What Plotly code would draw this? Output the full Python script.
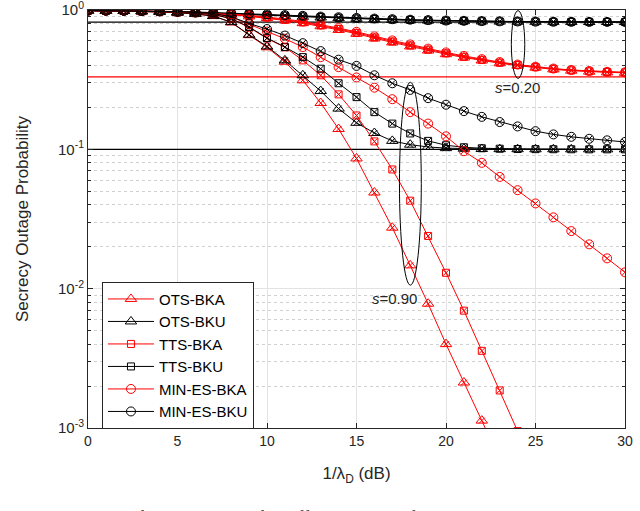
import plotly.graph_objects as go

# x-Achse: 1/lambda_D in dB
snr_db = list(range(31))

# --- s = 0.20 ---
ots_bka_020 = [0.990, 0.988, 0.985, 0.980, 0.974, 0.966, 0.955, 0.942, 0.925, 0.900, 0.875,
               0.842, 0.805, 0.765, 0.720, 0.675, 0.625, 0.585, 0.548, 0.512, 0.482,
               0.456, 0.434, 0.415, 0.399, 0.386, 0.375, 0.367, 0.361, 0.357, 0.354]
tts_bka_020 = [0.991, 0.989, 0.986, 0.981, 0.976, 0.969, 0.959, 0.947, 0.931, 0.908, 0.884,
               0.852, 0.816, 0.776, 0.731, 0.686, 0.636, 0.595, 0.557, 0.520, 0.489,
               0.462, 0.439, 0.419, 0.403, 0.389, 0.378, 0.369, 0.363, 0.359, 0.356]
min_es_bka_020 = [0.992, 0.990, 0.988, 0.983, 0.978, 0.972, 0.963, 0.952, 0.937, 0.915, 0.893,
                  0.862, 0.827, 0.787, 0.742, 0.697, 0.647, 0.605, 0.566, 0.528, 0.496,
                  0.468, 0.444, 0.423, 0.406, 0.392, 0.380, 0.371, 0.365, 0.360, 0.357]
ots_bku_020 = [0.990, 0.988, 0.985, 0.980, 0.975, 0.968, 0.960, 0.950, 0.940, 0.928, 0.916,
               0.905, 0.894, 0.884, 0.874, 0.865, 0.857, 0.850, 0.844, 0.839, 0.835,
               0.831, 0.828, 0.826, 0.824, 0.823, 0.822, 0.821, 0.820, 0.820, 0.819]
tts_bku_020 = [0.991, 0.989, 0.986, 0.982, 0.977, 0.971, 0.964, 0.955, 0.945, 0.934, 0.922,
               0.911, 0.900, 0.890, 0.880, 0.870, 0.862, 0.854, 0.848, 0.842, 0.837,
               0.833, 0.830, 0.827, 0.825, 0.824, 0.822, 0.821, 0.821, 0.820, 0.820]
min_es_bku_020 = [0.992, 0.990, 0.988, 0.984, 0.980, 0.975, 0.968, 0.960, 0.951, 0.941, 0.930,
                  0.919, 0.908, 0.897, 0.887, 0.877, 0.868, 0.859, 0.852, 0.846, 0.840,
                  0.836, 0.832, 0.829, 0.827, 0.825, 0.823, 0.822, 0.821, 0.821, 0.820]

# --- s = 0.90 ---
ots_bka_090 = [0.990, 0.987, 0.983, 0.977, 0.968, 0.955, 0.937, 0.905, 0.815, 0.660, 0.540,
               0.425, 0.313, 0.215, 0.140, 0.086, 0.049, 0.0274, 0.0147, 0.0078, 0.0040,
               0.00212, 0.00113, 0.0006]
tts_bka_090 = [0.991, 0.989, 0.986, 0.981, 0.974, 0.964, 0.950, 0.930, 0.865, 0.750, 0.625,
               0.540, 0.435, 0.340, 0.248, 0.175, 0.114, 0.0717, 0.0428, 0.0239, 0.0130,
               0.00695, 0.00358, 0.00186, 0.00095]
min_es_bka_090 = [0.992, 0.990, 0.988, 0.984, 0.979, 0.971, 0.960, 0.942, 0.890, 0.790, 0.700,
                  0.622, 0.542, 0.459, 0.389, 0.328, 0.277, 0.229, 0.185, 0.153, 0.124,
                  0.097, 0.080, 0.0634, 0.0509, 0.0409, 0.0325, 0.0259, 0.0208, 0.0165, 0.0131]
ots_bku_090 = [0.990, 0.987, 0.983, 0.977, 0.968, 0.955, 0.937, 0.905, 0.818, 0.665, 0.548,
               0.435, 0.340, 0.262, 0.196, 0.155, 0.131, 0.115, 0.108, 0.104, 0.102,
               0.101, 0.1006, 0.1003, 0.1002, 0.1001, 0.1001, 0.1, 0.1, 0.1, 0.1]
tts_bku_090 = [0.991, 0.989, 0.986, 0.981, 0.974, 0.964, 0.950, 0.930, 0.868, 0.755, 0.630,
               0.542, 0.459, 0.379, 0.298, 0.237, 0.185, 0.153, 0.130, 0.115, 0.107,
               0.1035, 0.1018, 0.101, 0.1005, 0.1003, 0.1002, 0.1001, 0.1, 0.1, 0.1]
min_es_bku_090 = [0.992, 0.990, 0.988, 0.984, 0.979, 0.971, 0.960, 0.943, 0.895, 0.800, 0.730,
                  0.655, 0.578, 0.507, 0.440, 0.397, 0.340, 0.298, 0.267, 0.233, 0.209,
                  0.188, 0.171, 0.157, 0.146, 0.135, 0.128, 0.123, 0.119, 0.116, 0.113]

# Asymptoten (horizontale Linien)
limit_bka_020 = 0.331
limit_bku_020 = 0.818
limit_bku_090 = 0.1

RED = "rgb(255,0,0)"
BLACK = "rgb(0,0,0)"

# (name, farbe, symbol, groesse, s=0.20 Werte, s=0.90 Werte)
series = [
    ("OTS-BKA", RED, "triangle-up-open", 10, ots_bka_020, ots_bka_090),
    ("OTS-BKU", BLACK, "triangle-up-open", 10, ots_bku_020, ots_bku_090),
    ("TTS-BKA", RED, "square-open", 7, tts_bka_020, tts_bka_090),
    ("TTS-BKU", BLACK, "square-open", 7, tts_bku_020, tts_bku_090),
    ("MIN-ES-BKA", RED, "circle-open", 9, min_es_bka_020, min_es_bka_090),
    ("MIN-ES-BKU", BLACK, "circle-open", 9, min_es_bku_020, min_es_bku_090),
]

fig = go.Figure()

# Asymptoten zuerst, damit sie unter den Kurven liegen
for val, col in [(limit_bka_020, RED), (limit_bku_020, BLACK), (limit_bku_090, BLACK)]:
    fig.add_trace(go.Scatter(x=[snr_db[0], snr_db[-1]], y=[val, val], mode="lines",
                             line=dict(color=col, width=1.2), showlegend=False,
                             hoverinfo="skip"))

for name, col, sym, size, vals_020, vals_090 in series:
    for k, vals in enumerate([vals_090, vals_020]):
        xs = snr_db[:len(vals)]
        # Analyse (Linie + Marker)
        fig.add_trace(go.Scatter(x=xs, y=vals, mode="lines+markers", name=name,
                                 legendgroup=name, showlegend=(k == 0),
                                 line=dict(color=col, width=1),
                                 marker=dict(symbol=sym, size=size, color=col,
                                             line=dict(color=col, width=1))))
        # Simulation (x-Marker)
        fig.add_trace(go.Scatter(x=xs, y=vals, mode="markers", legendgroup=name,
                                 showlegend=False,
                                 marker=dict(symbol="x-thin-open", size=6, color=col,
                                             line=dict(color=col, width=1))))

# Ellipsen um die Kurvengruppen
fig.add_shape(type="circle", xref="x", yref="y", x0=23.65, x1=24.4, y0=0.99, y1=0.323,
              line=dict(color=BLACK, width=1))
fig.add_shape(type="circle", xref="x", yref="y", x0=17.4, x1=18.62, y0=0.303, y1=0.0106,
              line=dict(color=BLACK, width=1))

fig.add_annotation(x=24.0, y=-0.555, xref="x", yref="y", text="<i>s</i>=0.20",
                   showarrow=False, font=dict(size=15, color="#262626"))
fig.add_annotation(x=17.1, y=-2.074, xref="x", yref="y", text="<i>s</i>=0.90",
                   showarrow=False, font=dict(size=15, color="#262626"))

# Bildunterschrift (unten abgeschnitten)
fig.add_annotation(x=-0.155, y=-0.22, xref="paper", yref="paper", xanchor="left",
                   yanchor="middle", showarrow=False,
                   text="Fig. 3: Variation of SOP with 1/λ<sub>D</sub> for different values of <i>s</i>",
                   font=dict(family="Liberation Serif", size=18, color="black"))

minor_vals = [m * 10 ** e for e in (-3, -2, -1) for m in range(2, 10)]

fig.update_layout(
    width=640, height=511,
    margin=dict(l=88, r=15, t=10, b=83),
    paper_bgcolor="white", plot_bgcolor="white",
    font=dict(family="Liberation Sans", size=14, color="#262626"),
    legend=dict(x=0.026, y=0.35, xanchor="left", yanchor="top",
                bgcolor="white", bordercolor="#262626", borderwidth=1,
                font=dict(size=15, color="black"), tracegroupgap=0, itemwidth=46),
    showlegend=True,
)

fig.update_xaxes(
    range=[0, 30], tickvals=[0, 5, 10, 15, 20, 25, 30], automargin=False,
    title=dict(text="1/λ<sub>D</sub> (dB)", standoff=19),
    showgrid=True, gridcolor="#e3e3e3", gridwidth=1,
    showline=True, linecolor="#262626", linewidth=1, mirror="ticks",
    ticks="inside", ticklen=5, tickcolor="#262626", zeroline=False,
    ticklabeloverflow="allow",
)
fig.update_yaxes(
    type="log", range=[-3, 0], automargin=False,
    tickvals=[0.001, 0.01, 0.1, 1],
    ticktext=["10<sup>-3</sup>", "10<sup>-2</sup>", "10<sup>-1</sup>", "10<sup>0</sup>"],
    title=dict(text="Secrecy Outage Probability", standoff=25),
    tickfont=dict(size=15),
    showgrid=True, gridcolor="#e3e3e3", gridwidth=1,
    showline=True, linecolor="#262626", linewidth=1, mirror="ticks",
    ticks="inside", ticklen=5, tickcolor="#262626", zeroline=False,
    ticklabeloverflow="allow",
    minor=dict(tickvals=minor_vals, ticks="inside", ticklen=3, tickcolor="#262626",
               showgrid=True, gridcolor="#d0d0d0", griddash="dot", gridwidth=1),
)

# Body-Rand der Seite entfernen, damit die Grafik bei (0,0) beginnt; keine Modebar
fig.write_html("out.html", config={"displayModeBar": False},
               post_script="document.body.style.margin='0';")
